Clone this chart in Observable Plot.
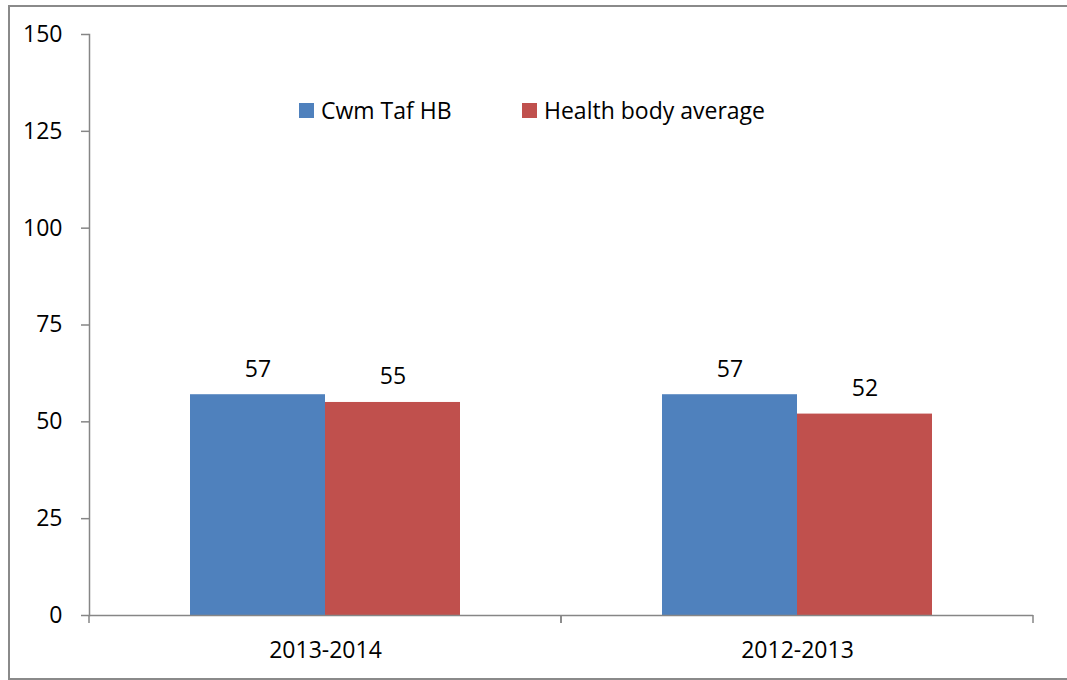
<!DOCTYPE html>
<html>
<head>
<meta charset="utf-8">
<script src="https://cdn.jsdelivr.net/npm/d3@7"></script>
<script src="https://cdn.jsdelivr.net/npm/@observablehq/plot@0.6"></script>
<style>
  html, body { margin: 0; padding: 0; background: #fff; }
  #wrap { position: relative; width: 1067px; height: 680px; overflow: hidden; font-family: "Open Sans", "Noto Sans", sans-serif; }
  #border { position: absolute; left: 8px; top: 5px; width: 1100px; height: 671px; border: 2px solid #8a8a8a; box-sizing: content-box; }
  #chart { position: absolute; left: 0; top: 0; }
  .item { position: absolute; top: 96px; display: flex; align-items: center; font-size: 23px; line-height: 28px; color: #000; white-space: nowrap; }
  .sw { width: 15px; height: 15px; margin-right: 7px; }
</style>
</head>
<body>
<div id="wrap">
  <div id="border"></div>
  <div id="chart"></div>
  <div id="legend"></div>
</div>
<script>
// Reporting periods (left to right) and the two compared series
const years = ["2013-2014", "2012-2013"];
const series = ["Cwm Taf HB", "Health body average"];
const cwmTaf = [57, 57];
const healthBodyAvg = [55, 52];
const yTicks = [0, 25, 50, 75, 100, 125, 150];
const colors = ["#4F81BD", "#C0504D"];
const axisGray = "#868686";

const data = years.flatMap((year, i) => [
  {year, series: series[0], value: cwmTaf[i]},
  {year, series: series[1], value: healthBodyAvg[i]}
]);

// Small tick marks at the edges of each category band on the x axis
function categoryTicks(index, scales, values, dimensions) {
  const {width, marginLeft, marginRight} = dimensions;
  const y0 = scales.y(0);
  const g = d3.create("svg:g").attr("stroke", axisGray).attr("stroke-width", 1.5);
  for (const x of [marginLeft, width - marginRight]) {
    g.append("line").attr("x1", x).attr("x2", x).attr("y1", y0).attr("y2", y0 + 8);
  }
  return g.node();
}

const chart = Plot.plot({
  width: 1067,
  height: 680,
  marginLeft: 89,
  marginRight: 34,
  marginTop: 34,
  marginBottom: 65,
  style: {fontFamily: "'Open Sans', 'Noto Sans', sans-serif", fontSize: "23px", color: "#000", background: "transparent"},
  fx: {domain: years, padding: 0, label: null},
  x: {domain: series, paddingInner: 0, paddingOuter: 0.748, axis: null},
  y: {domain: [0, 150], label: null},
  color: {domain: series, range: colors},
  marks: [
    Plot.barY(data, {fx: "year", x: "series", y: "value", fill: "series"}),
    Plot.text(data, {fx: "year", x: "series", y: "value", text: d => String(d.value), lineAnchor: "bottom", dy: -18, fill: "#000"}),
    Plot.ruleY([0], {stroke: axisGray, strokeWidth: 1.5}),
    Plot.frame({anchor: "left", facetAnchor: "left", stroke: axisGray, strokeWidth: 1.5}),
    Plot.axisY({ticks: yTicks, tickSize: 8, tickPadding: 19, stroke: axisGray, strokeWidth: 1.5, fill: "#000", label: null}),
    Plot.axisFx({anchor: "bottom", tickSize: 0, tickPadding: 26, label: null, fill: "#000"}),
    categoryTicks
  ]
});
document.getElementById("chart").append(chart);

// Legend row inside the plotting area
const legendLeft = [299, 522];
const legend = d3.select("#legend");
series.forEach((name, i) => {
  const item = legend.append("div").attr("class", "item").style("left", legendLeft[i] + "px");
  item.append("div").attr("class", "sw").style("background", colors[i]);
  item.append("span").text(name);
});
</script>
</body>
</html>
